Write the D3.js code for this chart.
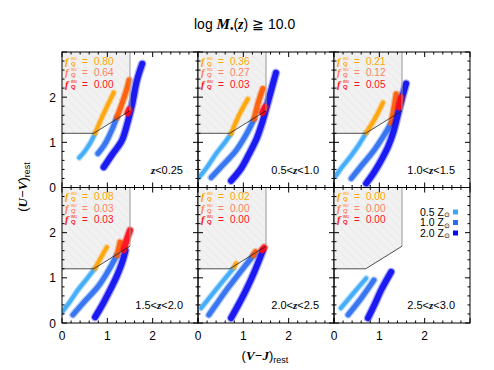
<!DOCTYPE html>
<html><head><meta charset="utf-8">
<script src="https://cdn.jsdelivr.net/npm/d3@7"></script>
<style>
body{margin:0;background:#fff;}
text{font-family:"Liberation Sans",Arial,sans-serif;}
.it{font-family:"Liberation Serif",serif;font-style:italic;font-weight:bold;}
</style></head>
<body><svg id="c" width="494" height="370"></svg>
<script>
// ---- data ----
const zLabels = ["z<0.25","0.5<z<1.0","1.0<z<1.5","1.5<z<2.0","2.0<z<2.5","2.5<z<3.0"];
const fq05 = ["0.80","0.36","0.21","0.08","0.02","0.00"];
const fq10 = ["0.64","0.27","0.12","0.03","0.00","0.00"];
const fq20 = ["0.00","0.03","0.05","0.03","0.00","0.00"];
const metallicities = ["0.5","1.0","2.0"];
const xTicks = [0,1,2];
const yTicks = [0,1,2];
// UVJ quiescent box (V-J, U-V)
const boxX = [0,0,0.7,1.5,1.5];
const boxY = [3,1.2,1.2,1.7,3];
// star-forming track centrelines per panel, [V-J, U-V]
const sf05 = [
 [[0.38,0.66],[0.50,0.80],[0.62,0.98],[0.73,1.20]],
 [[0.02,0.22],[0.20,0.45],[0.40,0.75],[0.58,0.98],[0.73,1.19]],
 [[0.04,0.26],[0.20,0.48],[0.38,0.71],[0.55,0.95],[0.71,1.21]],
 [[0.00,0.24],[0.18,0.48],[0.35,0.73],[0.55,0.98],[0.73,1.21]],
 [[0.07,0.33],[0.30,0.62],[0.55,0.93],[0.79,1.22]],
 [[0.15,0.33],[0.42,0.65],[0.71,0.99]]
];
const q05 = [
 [[0.73,1.20],[0.88,1.55],[1.02,1.85],[1.14,2.10]],
 [[0.73,1.19],[0.90,1.59],[1.10,1.96]],
 [[0.71,1.21],[0.90,1.52],[1.08,1.88]],
 [[0.73,1.21],[0.86,1.45],[0.99,1.68]],
 [[0.80,1.24],[0.84,1.32]],
 []
];
const sf10 = [
 [[0.79,0.75],[0.92,0.92],[1.02,1.10],[1.12,1.32],[1.21,1.55]],
 [[0.29,0.22],[0.55,0.50],[0.84,0.82],[1.05,1.15],[1.24,1.52]],
 [[0.38,0.20],[0.62,0.50],[0.88,0.82],[1.08,1.12],[1.26,1.43]],
 [[0.24,0.18],[0.50,0.48],[0.79,0.80],[1.00,1.12],[1.21,1.50]],
 [[0.24,0.18],[0.45,0.48],[0.68,0.80],[0.95,1.15],[1.24,1.52]],
 [[0.31,0.18],[0.60,0.55],[0.88,0.95]]
];
const q10 = [
 [[1.21,1.55],[1.32,1.85],[1.42,2.15],[1.48,2.38]],
 [[1.24,1.52],[1.32,1.85],[1.43,2.19]],
 [[1.26,1.43],[1.32,1.75],[1.37,2.07]],
 [[1.21,1.50],[1.25,1.65],[1.28,1.79]],
 [[1.22,1.50],[1.27,1.58]],
 []
];
const sf20 = [
 [[0.92,0.45],[1.10,0.72],[1.32,1.04],[1.45,1.45],[1.55,1.85],[1.65,2.36],[1.77,2.74]],
 [[0.73,0.15],[0.95,0.42],[1.13,0.75],[1.30,1.10],[1.43,1.48],[1.57,1.99],[1.72,2.54]],
 [[0.71,0.09],[0.88,0.33],[1.04,0.60],[1.20,0.92],[1.32,1.26],[1.43,1.70],[1.52,2.05],[1.59,2.30]],
 [[0.73,0.13],[0.90,0.42],[1.06,0.73],[1.20,1.02],[1.32,1.32],[1.40,1.60]],
 [[0.73,0.11],[0.90,0.42],[1.06,0.73],[1.25,1.15],[1.43,1.60]],
 [[0.75,0.11],[0.90,0.42],[1.04,0.73],[1.26,1.13]]
];
const q20 = [
 [[1.45,1.65],[1.48,1.72]],
 [[1.42,1.66],[1.48,1.78]],
 [[1.43,1.78],[1.48,1.99]],
 [[1.36,1.62],[1.43,1.85],[1.50,2.05]],
 [[1.42,1.62],[1.46,1.67]],
 []
];
// ---- layout ----
const L = 62, T = 52, PW = 136, PH = 135.5;
const sfColors = ["#3aa8f8","#2a6ef0","#0a0af0"];
const qColors = ["#ffa200","#ff5a00","#ff0a14"];
const fColors = ["#ffa500","#ff8060","#ff1020"];
const widths = [5,6,7];

const svg = d3.select("#c");
const defs = svg.append("defs");
const pat = defs.append("pattern").attr("id","hatch").attr("patternUnits","userSpaceOnUse")
  .attr("width",6).attr("height",6).attr("patternTransform","rotate(-45)");
pat.append("rect").attr("width",6).attr("height",6).attr("fill","#f1f1f1");
pat.append("line").attr("x1",0).attr("y1",0).attr("x2",0).attr("y2",6).attr("stroke","#e4e4e4").attr("stroke-width",1);

const x = d3.scaleLinear().domain([0,3]).range([0,PW]);
const y = d3.scaleLinear().domain([0,3]).range([PH,0]);
const line = d3.line().x(d=>x(d[0])).y(d=>y(d[1])).curve(d3.curveCatmullRom);

for (let i=0;i<6;i++){
  const col = i%3, row = Math.floor(i/3);
  const g = svg.append("g").attr("transform",`translate(${L+col*PW},${T+row*PH})`);
  defs.append("clipPath").attr("id","cp"+i).append("rect").attr("width",PW).attr("height",PH);
  const box = boxX.map((v,k)=>[v,boxY[k]]);
  g.append("path").attr("d", "M"+box.map(p=>x(p[0])+","+y(p[1])).join("L")+"Z").attr("fill","url(#hatch)");
  const tg = g.append("g").attr("clip-path",`url(#cp${i})`);
  const sets = [[sf05[i],q05[i]],[sf10[i],q10[i]],[sf20[i],q20[i]]];
  sets.forEach((s,m)=>{
    [[s[0],sfColors[m]],[s[1],qColors[m]]].forEach(([pts,c])=>{
      if(pts.length>1){
        tg.append("path").attr("d",line(pts)).attr("fill","none").attr("stroke",c)
          .attr("stroke-width",widths[m]+1.5).attr("stroke-linecap","round").attr("stroke-linejoin","round").attr("opacity",0.35);
        tg.append("path").attr("d",line(pts)).attr("fill","none").attr("stroke",c)
          .attr("stroke-width",widths[m]-1).attr("stroke-linecap","round").attr("stroke-linejoin","round").attr("opacity",0.9);
      }
    });
  });
  // box edges
  g.append("path").attr("d",`M${x(boxX[1])},${y(boxY[1])}L${x(boxX[2])},${y(boxY[2])}L${x(boxX[3])},${y(boxY[3])}`)
    .attr("fill","none").attr("stroke","#222").attr("stroke-width",0.8);
  g.append("line").attr("x1",x(boxX[3])).attr("x2",x(boxX[4])).attr("y1",y(boxY[3])).attr("y2",y(boxY[4]))
    .attr("stroke","#999").attr("stroke-width",1);
  // frame
  g.append("rect").attr("width",PW).attr("height",PH).attr("fill","none").attr("stroke","#000").attr("stroke-width",1);
  // ticks
  const minor=d3.range(0,3.01,0.2);
  minor.forEach(v=>{
    const isMaj = Math.abs(v-Math.round(v))<1e-6;
    const len = isMaj?5:2.5;
    g.append("line").attr("x1",x(v)).attr("x2",x(v)).attr("y1",PH).attr("y2",PH-len).attr("stroke","#000");
    g.append("line").attr("x1",x(v)).attr("x2",x(v)).attr("y1",0).attr("y2",len).attr("stroke","#000");
    g.append("line").attr("y1",y(v)).attr("y2",y(v)).attr("x1",0).attr("x2",len).attr("stroke","#000");
    g.append("line").attr("y1",y(v)).attr("y2",y(v)).attr("x1",PW).attr("x2",PW-len).attr("stroke","#000");
  });
  if(col===0){
    yTicks.forEach(v=>g.append("text").attr("x",-6).attr("y",y(v)+4.5).attr("text-anchor","end")
      .attr("font-size",12).text(v));
  }
  if(row===1){
    xTicks.forEach(v=>g.append("text").attr("x",x(v)).attr("y",PH+17).attr("text-anchor","middle")
      .attr("font-size",12).text(v));
  }
  // f labels
  [fq05[i],fq10[i],fq20[i]].forEach((v,m)=>{
    const by = 12.5+m*11.5;
    const t = g.append("text").attr("x",3).attr("y",by).attr("font-size",10).attr("fill",fColors[m]);
    t.append("tspan").attr("font-family","Liberation Serif").attr("font-style","italic").attr("font-weight","bold").attr("font-size",10.5).text("f");
    t.append("tspan").attr("x",9).attr("y",by-5).attr("font-size",4.5).text("wu");
    t.append("tspan").attr("x",9).attr("y",by+1).attr("font-size",6).attr("font-weight","bold").text("Q");
    t.append("tspan").attr("x",20).attr("y",by).text("=");
    t.append("tspan").attr("x",32).attr("y",by).text(v);
  });
  // redshift label
  const zl = zLabels[i].split("z");
  const zt = g.append("text").attr("x",PW-15).attr("y",PH-14).attr("text-anchor","end").attr("font-size",11);
  zt.append("tspan").text(zl[0]);
  zt.append("tspan").attr("class","it").text("z");
  zt.append("tspan").text(zl[1]);
  // legend
  if(i===5){
    metallicities.forEach((mz,m)=>{
      const t = g.append("text").attr("x",86).attr("y",28+m*10.5).attr("font-size",10.5);
      t.append("tspan").text(mz+" Z");
      t.append("tspan").attr("font-size",6.5).attr("dy",1.5).text("\u2299");
      g.append("rect").attr("x",119).attr("y",22+m*10.5).attr("width",5).attr("height",5).attr("fill",sfColors[m]);
    });
  }
}
// title
const title = svg.append("text").attr("x",194).attr("y",29).attr("font-size",14);
title.append("tspan").text("log ");
title.append("tspan").attr("class","it").attr("font-size",15).text("M");
title.append("tspan").attr("font-size",10).attr("dy",3).text("\u2022");
title.append("tspan").attr("dy",-3).text("(");
title.append("tspan").attr("class","it").text("z");
title.append("tspan").text(") \u2267 10.0");
// axis titles
const yt = svg.append("text").attr("transform","translate(27,187) rotate(-90)").attr("text-anchor","middle").attr("font-size",13);
yt.append("tspan").text("(");
yt.append("tspan").attr("class","it").text("U\u2212V");
yt.append("tspan").text(")");
yt.append("tspan").attr("font-size",9).attr("dy",3).text("rest");
const xt = svg.append("text").attr("x",265).attr("y",360).attr("text-anchor","middle").attr("font-size",13);
xt.append("tspan").text("(");
xt.append("tspan").attr("class","it").text("V\u2212J");
xt.append("tspan").text(")");
xt.append("tspan").attr("font-size",9).attr("dy",3).text("rest");
</script></body></html>
